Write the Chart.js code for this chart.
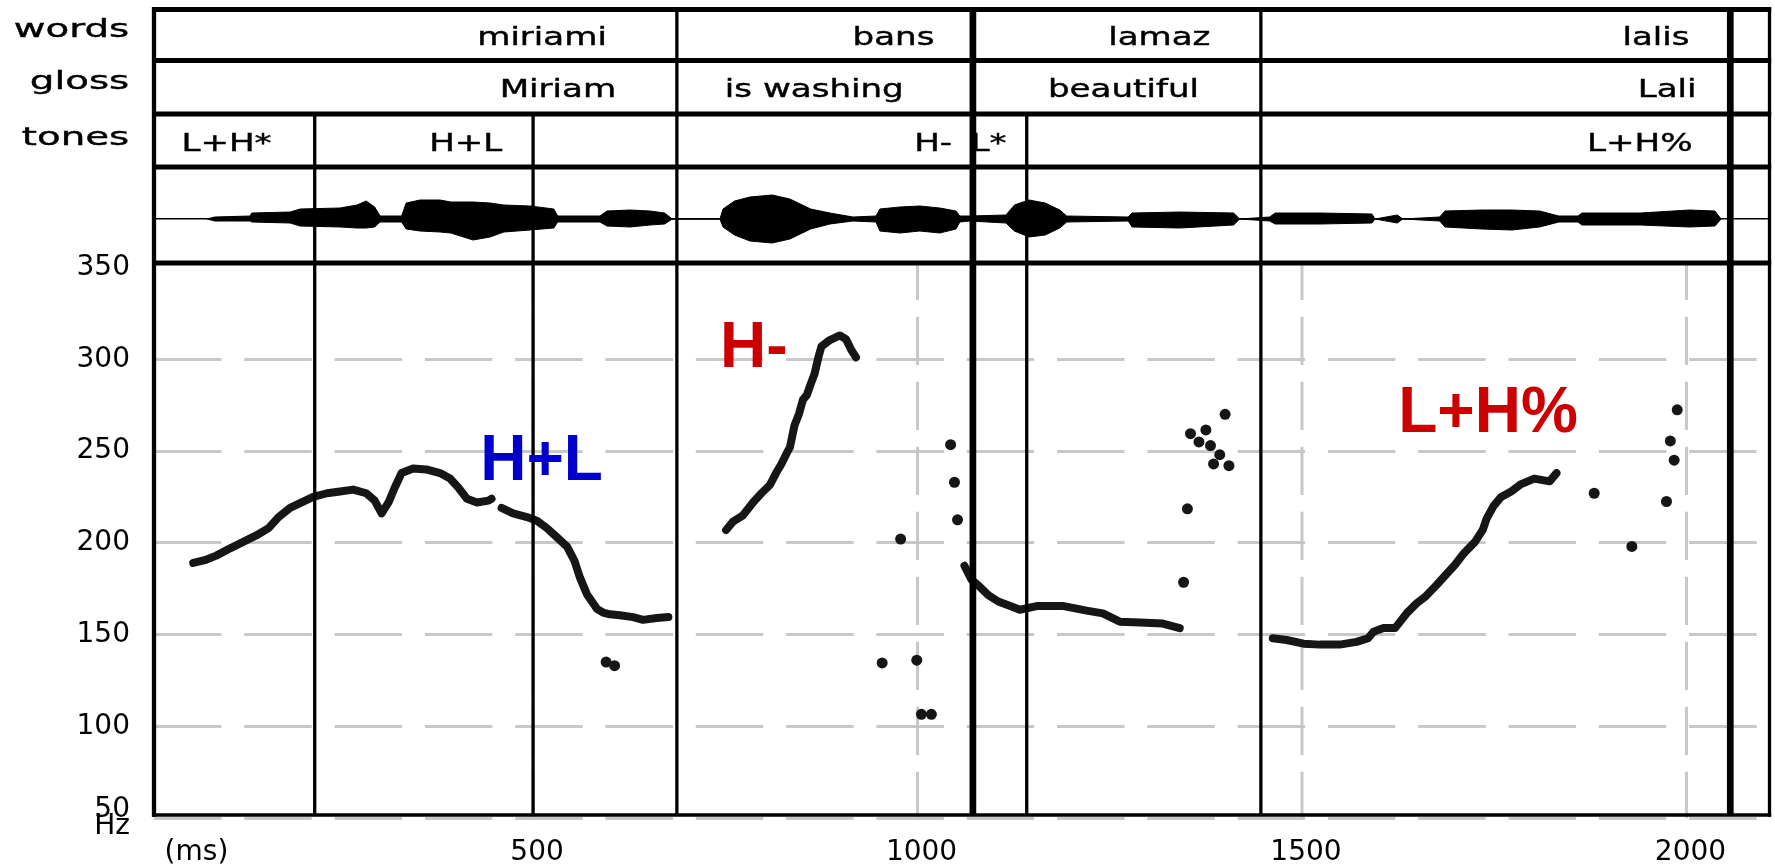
<!DOCTYPE html>
<html>
<head>
<meta charset="utf-8">
<script src="https://cdn.jsdelivr.net/npm/chart.js@4.4.1/dist/chart.umd.min.js"></script>
<style>
  html,body{margin:0;padding:0;background:#fff;}
  #wrap{width:1775px;height:864px;position:relative;}
</style>
</head>
<body>
<div id="wrap"><canvas id="pitch" width="1775" height="864"></canvas></div>
<script>
/* =========================================================
   DATA
   ========================================================= */
// F0 contour (ms / Hz), null = break in the track
const f0Time = [58,73,88,106,123,140,156,169,184,199,214,232,249,266,283,294,303,312,320,329,344,361,379,392,403,414,427,442,446,
  452,
  459,474,492,505,518,531,544,554,561,570,583,591,600,613,630,643,661,676,
  700,
  751,760,773,786,797,808,816,823,830,834,837,840,846,851,856,861,866,871,875,886,899,907,914,920,
  1000,
  1061,1070,1081,1092,1105,1124,1133,1155,1190,1220,1241,1263,1289,1319,1341,
  1400,
  1462,1480,1502,1523,1549,1571,1586,1593,1606,1621,1636,1649,1660,1675,1688,1699,1710,1725,1735,1740,1749,1759,1772,1785,1802,1822,1831];
const f0Hz = [189,190.5,193,197,200.5,204,208,214,219,222,225,227,228,229,227,223,216,222,230,238,240.5,240,238,235,230,224,222,223,224,
  null,
  219,216,214,212,208,203,198,190,181,172,164,162,161,160.5,159.5,158,159,159.5,
  null,
  207,211.5,215,222,227,231.5,238,243,249,252,258,264,270.5,278,280.5,286.5,292,301,307,310.5,313,311,305,301,
  null,
  187.5,180,176,171.5,168,165,163.5,165.5,165.5,163,161.5,157,156.5,156,153.5,
  null,
  148,147,145,144.5,144.5,146,148,151.5,153.5,153.5,161.5,167,170.5,177,183,188,194,200.5,207,213,220,225,228,232,235,233.5,238];

// isolated pitch points
const dotTime = [595,606,954,978,999,1005,1018,1043,1048,1052,1346,1351,1355,1366,1375,1381,1385,1393,1400,1405,1880,1929,1974,1979,1984,1988];
const dotHz   = [135,133,134.5,202,136,106.5,106.5,253.5,233,212.5,178.5,218.5,259.5,255,261.5,253,243,248,270,242,227,198,222.5,255.5,245,272.5];

// waveform envelope (ms, upper / lower amplitude)
const waveTime = [76,86,132,134,184,197,249,271,283,294,301,329,335,353,379,393,422,444,462,496,527,532,587,596,626,652,671,681,743,747,
  762,782,811,834,861,886,916,946,951,977,1003,1029,1050,1055,1068,1115,1126,1145,1166,1185,1194,1274,1279,1341,1411,1419,1458,1465,1523,1591,
  1595,1624,1631,1679,1686,1734,1773,1809,1834,1859,1864,1940,2004,2037,2045];
const waveUp = [0,2,3,6,7,10,11,14,18,12,3,3,16,19,19,17,17,16,14,13,10,3,3,8,9,8,6,0,0,10,
  18,22,24,20,10,6,2,3,10,12,13,11,8,3,3,4,14,19,16,9,3,2,6,7,6,0,2,6,6,5,
  0,4,0,2,8,9,9,8,3,3,6,6,9,8,0];
const waveLo = [0,-2,-2,-3,-4,-7,-8,-9,-9,-8,-3,-3,-10,-12,-13,-14,-21,-18,-13,-11,-9,-3,-3,-7,-8,-6,-5,0,0,-8,
  -16,-22,-24,-20,-10,-5,-2,-3,-12,-14,-12,-14,-10,-3,-2,-4,-12,-18,-16,-9,-3,-2,-8,-9,-6,0,-2,-5,-5,-4,
  0,-4,0,-2,-8,-10,-11,-8,-3,-3,-6,-6,-8,-7,0];

// tiers
const tierNames = ['words','gloss','tones'];
const wordText  = ['miriami','bans','lamaz','lalis'];
const wordAt    = [596,1022,1381,2004];
const glossText = ['Miriam','is washing','beautiful','Lali'];
const glossAt   = [608,982,1366,2013];
const toneText  = ['L+H*','H+L','H-','L*','L+H%'];
const toneAt    = [160,460,1045,1069,2008];
const toneAlign = ['right','right','right','left','right'];
const wordBounds = [687,1072,1446.5,2057];
const toneBounds = [216,500,1142];
const thickBounds = [1072,2057];

// accent labels in the plot
const accentText = ['H+L','H-','L+H%'];
const accentTime = [511,787,1742];
const accentHz   = [234,296,260.5];
const accentColor = ['#0000cc','#cc0000','#cc0000'];

// axes
const xTicks = [500,1000,1500,2000];
const yTicks = [350,300,250,200,150,100,50];

/* =========================================================
   HELPERS
   ========================================================= */
function line(ctx,x1,y1,x2,y2){
  ctx.beginPath(); ctx.moveTo(x1,y1); ctx.lineTo(x2,y2); ctx.stroke();
}
// pixel-font look: wide glyphs, slightly heavier strokes
function wideText(ctx,text,x,y,align,sx){
  const w = ctx.measureText(text).width*sx;
  const left = align==='right' ? x-w : align==='center' ? x-w/2 : x;
  ctx.save();
  ctx.translate(left,y); ctx.scale(sx,1);
  ctx.textAlign='left';
  ctx.lineWidth=0.4; ctx.strokeStyle=ctx.fillStyle;
  ctx.fillText(text,0,0);
  ctx.strokeText(text,0,0);
  ctx.restore();
}

const tierPlugin = {
  id:'tiers',
  beforeDatasetsDraw(chart){
    const {ctx, scales:{x,y}} = chart;
    ctx.save();
    ctx.strokeStyle='#c8c8c8'; ctx.lineWidth=3;
    ctx.setLineDash([48.3,16.7]); ctx.lineDashOffset=11.3;
    xTicks.forEach(v=>{
      const px = x.getPixelForValue(v);
      line(ctx,px,y.top,px,y.bottom);
    });
    ctx.restore();
  },
  afterDraw(chart){
    const {ctx, chartArea:ca, scales:{x,y}} = chart;
    const L = ca.left, R = ca.right, T = 9.5;
    const rows = [T,60.5,114,ca.top,y.top];
    const axisY = y.getPixelForValue(50)-3;
    ctx.save();
    ctx.strokeStyle='#000';
    ctx.lineWidth=5;
    rows.forEach(r=>line(ctx,L-2,r,R+1.7,r));
    ctx.lineWidth=3.4;
    line(ctx,L-2,axisY,R+1.7,axisY);
    ctx.lineWidth=4.3; line(ctx,L,T-2.5,L,axisY+1.7);
    ctx.lineWidth=3.3; line(ctx,R,T-2.5,R,axisY+1.7);
    wordBounds.forEach(t=>{
      ctx.lineWidth = thickBounds.includes(t) ? 6.7 : 3.3;
      const px = x.getPixelForValue(t);
      line(ctx,px,T,px,axisY);
    });
    toneBounds.forEach(t=>{
      ctx.lineWidth=3.3;
      const px = x.getPixelForValue(t);
      line(ctx,px,rows[2],px,axisY);
    });

    // tier texts
    ctx.fillStyle='#000';
    ctx.textBaseline='alphabetic';
    ctx.font='25px "DejaVu Sans"';
    [36.5,89,144.5].forEach((b,i)=>wideText(ctx,tierNames[i],129.3,b,'right',1.55));
    ctx.font='24px "DejaVu Sans"';
    wordText.forEach((s,i)=>wideText(ctx,s,x.getPixelForValue(wordAt[i]),45,'right',1.42));
    glossText.forEach((s,i)=>wideText(ctx,s,x.getPixelForValue(glossAt[i]),97,'right',1.42));
    toneText.forEach((s,i)=>wideText(ctx,s,x.getPixelForValue(toneAt[i]),151,toneAlign[i],1.42));

    // accent labels
    ctx.font='bold 64px "Liberation Sans"';
    ctx.textAlign='center';
    accentText.forEach((s,i)=>{
      ctx.fillStyle=accentColor[i];
      ctx.fillText(s,x.getPixelForValue(accentTime[i]),y.getPixelForValue(accentHz[i]));
    });
    ctx.restore();
  }
};

/* =========================================================
   CHART
   ========================================================= */
const contour = f0Time.map((t,i)=>({x:t,y:f0Hz[i]}));
const dots = dotTime.map((t,i)=>({x:t,y:dotHz[i]}));
const upper = waveTime.map((t,i)=>({x:t,y:waveUp[i]}));
const lower = waveTime.map((t,i)=>({x:t,y:waveLo[i]}));

new Chart(document.getElementById('pitch'),{
  type:'line',
  data:{
    datasets:[
      {data:upper,yAxisID:'yw',borderColor:'#000',backgroundColor:'#000',borderWidth:1,pointRadius:0,fill:'+1',tension:0},
      {data:lower,yAxisID:'yw',borderColor:'#000',backgroundColor:'#000',borderWidth:1,pointRadius:0,fill:false,tension:0},
      {data:contour,yAxisID:'y',borderColor:'#161616',borderWidth:8,borderCapStyle:'round',borderJoinStyle:'round',
        pointRadius:0,spanGaps:false,fill:false,tension:0},
      {data:dots,yAxisID:'y',showLine:false,pointRadius:5.5,pointBackgroundColor:'#161616',pointBorderWidth:0}
    ]
  },
  options:{
    responsive:false,
    animation:false,
    devicePixelRatio:1,
    layout:{padding:{top:167,right:5,bottom:0,left:0}},
    plugins:{legend:{display:false},tooltip:{enabled:false}},
    scales:{
      x:{
        type:'linear',min:7,max:2108,position:'bottom',
        afterBuildTicks:s=>{ s.ticks=[57].concat(xTicks).map(v=>({value:v})); },
        afterFit:s=>{ s.height=46; },
        grid:{display:false},border:{display:false},
        ticks:{autoSkip:false,maxRotation:0,color:'#000',font:{family:'"DejaVu Sans"',size:28},padding:10,labelOffset:4,
          callback:v=>v===57?'(ms)':String(v)}
      },
      y:{
        type:'linear',position:'left',stack:'v',stackWeight:555,min:50,max:352.5,
        afterBuildTicks:s=>{ s.ticks=yTicks.map(v=>({value:v})); },
        afterFit:s=>{ s.width=154; },
        grid:{color:c=>c.tick&&c.tick.value===350?'rgba(0,0,0,0)':'#c8c8c8',lineWidth:3,drawTicks:false},
        border:{display:false,dash:[67.5,22.8]},
        ticks:{color:'#000',font:{family:'"DejaVu Sans"',size:28,lineHeight:0.62},padding:24,
          callback:v=>v===50?['50','Hz']:String(v)}
      },
      yw:{
        type:'linear',position:'left',stack:'v',stackWeight:96,min:-44,max:52,
        afterBuildTicks:s=>{ s.ticks=[{value:0}]; },
        afterFit:s=>{ s.width=154; },
        grid:{color:'#000',lineWidth:1.5,drawTicks:false},
        border:{display:false},
        ticks:{display:false}
      }
    }
  },
  plugins:[tierPlugin]
});
</script>
</body>
</html>
